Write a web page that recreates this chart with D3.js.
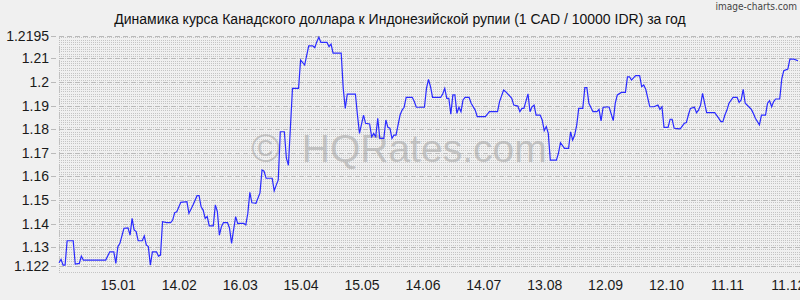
<!DOCTYPE html>
<html>
<head>
<meta charset="utf-8">
<script src="https://cdn.jsdelivr.net/npm/d3@7"></script>
<style>
  body { margin: 0; background: #f0f0f0; }
  svg { display: block; font-family: "Liberation Sans", Arial, sans-serif; }
</style>
</head>
<body>
<div class="chart"></div>
<script>
// CAD / IDR (per 10000 IDR), daily, one year
var startDate = "2010-12-17";
var endDay = 364;

var days = [
  0,1,2,3,4,7,8,10,11,12,
  23,25,27,28,29,30,32,34,35,36,
  37,38,39,41,42,43,44,45,46,48,
  49,50,51,53,55,56,57,58,60,63,
  64,66,68,69,70,71,72,73,74,76,
  77,78,79,80,81,83,84,85,86,87,
  88,91,92,93,94,95,97,99,100,101,
  102,105,106,107,108,109,111,112,113,115,
  118,119,121,123,125,126,127,128,129,132,
  133,134,135,139,140,141,142,146,147,148,
  150,151,153,154,155,156,157,158,160,161,
  162,163,164,165,166,168,169,170,171,174,
  175,176,180,181,182,183,184,188,189,190,
  191,192,193,194,195,196,197,198,199,200,
  202,203,205,206,210,212,216,217,219,220,
  223,224,226,227,228,229,231,232,233,234,
  235,237,238,239,240,241,242,245,246,247,
  249,251,252,253,254,255,256,258,259,260,
  261,263,265,266,267,268,269,270,271,273,
  274,275,277,279,280,281,282,284,286,287,
  288,289,291,293,295,296,297,298,300,301,
  302,303,306,308,309,310,311,313,314,315,
  316,317,318,319,323,325,326,327,328,329,
  330,332,334,335,336,337,338,340,341,342,
  343,345,346,348,349,350,351,352,353,355,
  356,357,359,360,362,364
];

var rates = [
  1.1234,1.1248,1.1224,1.1224,1.1327,1.1327,1.1228,1.1231,1.1262,1.1245,
  1.1245,1.1280,1.1280,1.1231,1.1302,1.1316,1.1380,1.1382,1.1351,1.1422,
  1.1373,1.1366,1.1327,1.1327,1.1347,1.1309,1.1302,1.1224,1.1280,1.1280,
  1.1262,1.1266,1.1408,1.1404,1.1404,1.1415,1.1446,1.1450,1.1490,1.1493,
  1.1443,1.1479,1.1518,1.1518,1.1471,1.1457,1.1422,1.1430,1.1390,1.1390,
  1.1479,1.1451,1.1351,1.1387,1.1404,1.1404,1.1380,1.1316,1.1373,1.1429,
  1.1401,1.1401,1.1394,1.1443,1.1532,1.1488,1.1486,1.1530,1.1627,1.1622,
  1.1592,1.1592,1.1539,1.1563,1.1585,1.1789,1.1789,1.1677,1.1647,1.1973,
  1.1973,1.2093,1.2072,1.2153,1.2153,1.2145,1.2171,1.2190,1.2168,1.2168,
  1.2150,1.2161,1.2122,1.2122,1.1973,1.1888,1.1949,1.1949,1.1860,1.1782,
  1.1860,1.1825,1.1822,1.1768,1.1782,1.1768,1.1846,1.1761,1.1761,1.1839,
  1.1808,1.1804,1.1761,1.1775,1.1775,1.1860,1.1881,1.1893,1.1935,1.1935,
  1.1917,1.1893,1.1893,1.1973,1.2011,1.1980,1.1935,1.1935,1.1949,1.1973,
  1.1931,1.1931,1.1864,1.1945,1.1945,1.1867,1.1893,1.1874,1.1924,1.1935,
  1.1935,1.1910,1.1881,1.1853,1.1853,1.1874,1.1874,1.1917,1.1966,1.1959,
  1.1931,1.1902,1.1898,1.1874,1.1888,1.1888,1.1950,1.1874,1.1895,1.1902,
  1.1860,1.1860,1.1839,1.1794,1.1811,1.1782,1.1669,1.1669,1.1698,1.1743,
  1.1719,1.1719,1.1789,1.1754,1.1775,1.1817,1.1888,1.1888,1.1976,1.1976,
  1.1910,1.1874,1.1874,1.1884,1.1835,1.1893,1.1893,1.1895,1.1893,1.1836,
  1.1910,1.1945,1.1956,1.1956,1.2022,1.2022,1.2008,1.2027,1.2027,1.1980,
  1.1987,1.1969,1.1895,1.1895,1.1902,1.1884,1.1895,1.1808,1.1808,1.1842,
  1.1842,1.1804,1.1801,1.1825,1.1828,1.1860,1.1888,1.1893,1.1870,1.1881,
  1.1902,1.1952,1.1910,1.1870,1.1870,1.1846,1.1832,1.1832,1.1860,1.1881,
  1.1910,1.1935,1.1935,1.1914,1.1924,1.1969,1.1910,1.1893,1.1884,1.1867,
  1.1846,1.1818,1.1860,1.1860,1.1910,1.1921,1.1895,1.1917,1.1928,1.1928,
  1.2013,1.2048,1.2055,1.2097,1.2097,1.2090
];

var xTickDates = ["2011-01-15","2011-02-14","2011-03-16","2011-04-15","2011-05-15","2011-06-14",
                  "2011-07-14","2011-08-13","2011-09-12","2011-10-12","2011-11-11","2011-12-11"];
var yTicks = [1.122, 1.13, 1.14, 1.15, 1.16, 1.17, 1.18, 1.19, 1.2, 1.21, 1.2195];

var title = "Динамика курса Канадского доллара к Индонезийской рупии (1 CAD / 10000 IDR) за год";

var W = 800, H = 300;
var plotL = 59, plotR = 798, plotT = 36, plotB = 266;

var parse = d3.utcParse("%Y-%m-%d");
var t0 = parse(startDate);
var data = days.map(function(d, i) {
  return { date: d3.utcDay.offset(t0, d), value: rates[i] };
});

var x = d3.scaleUtc()
  .domain([t0, d3.utcDay.offset(t0, endDay)])
  .range([plotL, plotR]);

var y = d3.scaleLinear()
  .domain([yTicks[0], yTicks[yTicks.length - 1]])
  .range([plotB, plotT]);

var svg = d3.select(".chart").append("svg")
  .attr("width", W)
  .attr("height", H);

svg.append("rect")
  .attr("width", W)
  .attr("height", H)
  .attr("fill", "#f0f0f0");

// minor grid
var minor = d3.range(0, 98).map(function(i) { return yTicks[0] + i * 0.001; });
svg.append("g")
  .selectAll("line")
  .data(minor)
  .join("line")
    .attr("x1", plotL)
    .attr("x2", W)
    .attr("y1", function(d) { return Math.round(y(d)) + 0.5; })
    .attr("y2", function(d) { return Math.round(y(d)) + 0.5; })
    .attr("stroke", "#c4c4c4")
    .attr("stroke-dasharray", "1,1");

// major grid
svg.append("g")
  .selectAll("line")
  .data(yTicks)
  .join("line")
    .attr("x1", plotL - 8)
    .attr("x2", W)
    .attr("y1", function(d) { return Math.round(y(d)) + 0.5; })
    .attr("y2", function(d) { return Math.round(y(d)) + 0.5; })
    .attr("stroke", "#bababa")
    .attr("stroke-dasharray", "5,3");

svg.append("line")
  .attr("x1", plotL + 0.5).attr("x2", plotL + 0.5)
  .attr("y1", plotT).attr("y2", plotB + 6)
  .attr("stroke", "#bdbdbd")
  .attr("stroke-dasharray", "1,1");

svg.append("line")
  .attr("x1", plotL).attr("x2", W)
  .attr("y1", plotB + 6.5).attr("y2", plotB + 6.5)
  .attr("stroke", "#c4c4c4")
  .attr("stroke-dasharray", "1,1");

// watermark
svg.append("text")
  .attr("x", 399)
  .attr("y", 162)
  .attr("text-anchor", "middle")
  .attr("font-size", 39)
  .attr("fill", "#a8a8a8")
  .attr("fill-opacity", 0.6)
  .text("©\u00a0\u00a0HQRates.com");

// axes
var yAxis = d3.axisLeft(y)
  .tickValues(yTicks)
  .tickFormat(d3.format("~g"))
  .tickSize(0)
  .tickPadding(10);

svg.append("g")
  .attr("transform", "translate(" + plotL + ",0)")
  .call(yAxis)
  .call(function(g) { g.select(".domain").remove(); })
  .selectAll("text")
    .attr("font-size", 14)
    .attr("fill", "#1a1a1a")
    .attr("font-family", "Liberation Sans, Arial, sans-serif");

var xAxis = d3.axisBottom(x)
  .tickValues(xTickDates.map(parse))
  .tickFormat(d3.utcFormat("%d.%m"))
  .tickSize(0)
  .tickPadding(14);

svg.append("g")
  .attr("transform", "translate(0," + plotB + ")")
  .call(xAxis)
  .call(function(g) { g.select(".domain").remove(); })
  .selectAll("text")
    .attr("font-size", 14)
    .attr("fill", "#1a1a1a")
    .attr("font-family", "Liberation Sans, Arial, sans-serif");

// rate line
var line = d3.line()
  .x(function(d) { return x(d.date); })
  .y(function(d) { return y(d.value); });

svg.append("path")
  .datum(data)
  .attr("fill", "none")
  .attr("stroke", "#2b2bff")
  .attr("stroke-width", 1.2)
  .attr("d", line);

// title and credit
svg.append("text")
  .attr("x", 400)
  .attr("y", 24)
  .attr("text-anchor", "middle")
  .attr("font-size", 14)
  .attr("fill", "#111")
  .text(title);

svg.append("text")
  .attr("x", 797)
  .attr("y", 10)
  .attr("text-anchor", "end")
  .attr("font-size", 10)
  .attr("font-family", "DejaVu Sans Condensed, sans-serif")
  .attr("fill", "#444")
  .text("image-charts.com");
</script>
</body>
</html>
